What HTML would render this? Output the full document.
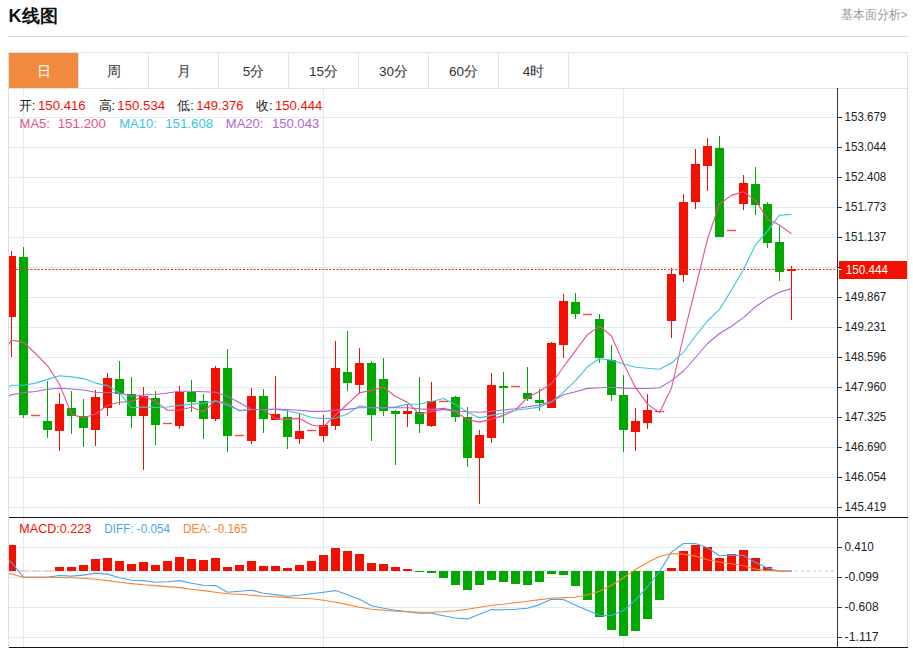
<!DOCTYPE html><html><head><meta charset="utf-8"><style>
html,body{margin:0;padding:0;background:#fff;width:913px;height:648px;overflow:hidden}
svg{position:absolute;left:0;top:0}
text{font-family:"Liberation Sans", sans-serif}
</style></head><body>
<svg width="913" height="648" viewBox="0 0 913 648">
<defs><clipPath id="cm"><rect x="9" y="89" width="828" height="428"/></clipPath>
<clipPath id="cd"><rect x="9" y="518" width="828" height="129"/></clipPath></defs>
<text x="8.6" y="21.7" font-size="18" font-weight="bold" fill="#111">K线图</text>
<text x="841.2" y="18.7" font-size="12.5" fill="#999" textLength="66.2" lengthAdjust="spacingAndGlyphs">基本面分析&gt;</text>
<rect x="8" y="36" width="900" height="1" fill="#DADADA"/>
<rect x="8.5" y="52.5" width="899" height="36" fill="#fff" stroke="#E2E2E2" stroke-width="1"/>
<rect x="9" y="53" width="69" height="35" fill="#F08A3E"/>
<text x="43.5" y="75.8" font-size="13.5" fill="#fff" text-anchor="middle">日</text>
<rect x="78" y="53" width="1" height="35" fill="#E2E2E2"/>
<text x="113.5" y="75.8" font-size="13.5" fill="#333" text-anchor="middle">周</text>
<rect x="148" y="53" width="1" height="35" fill="#E2E2E2"/>
<text x="183.5" y="75.8" font-size="13.5" fill="#333" text-anchor="middle">月</text>
<rect x="218" y="53" width="1" height="35" fill="#E2E2E2"/>
<text x="253.5" y="75.8" font-size="13.5" fill="#333" text-anchor="middle">5分</text>
<rect x="288" y="53" width="1" height="35" fill="#E2E2E2"/>
<text x="323.5" y="75.8" font-size="13.5" fill="#333" text-anchor="middle">15分</text>
<rect x="358" y="53" width="1" height="35" fill="#E2E2E2"/>
<text x="393.5" y="75.8" font-size="13.5" fill="#333" text-anchor="middle">30分</text>
<rect x="428" y="53" width="1" height="35" fill="#E2E2E2"/>
<text x="463.5" y="75.8" font-size="13.5" fill="#333" text-anchor="middle">60分</text>
<rect x="498" y="53" width="1" height="35" fill="#E2E2E2"/>
<text x="533.5" y="75.8" font-size="13.5" fill="#333" text-anchor="middle">4时</text>
<rect x="568" y="53" width="1" height="35" fill="#E2E2E2"/>
<rect x="8" y="88" width="1" height="560" fill="#DDDDDD"/>
<rect x="907" y="88" width="1" height="560" fill="#DDDDDD"/>
<rect x="9" y="117" width="828" height="1" fill="#DFEAF2"/>
<rect x="9" y="147" width="828" height="1" fill="#DFEAF2"/>
<rect x="9" y="177" width="828" height="1" fill="#DFEAF2"/>
<rect x="9" y="207" width="828" height="1" fill="#DFEAF2"/>
<rect x="9" y="237" width="828" height="1" fill="#DFEAF2"/>
<rect x="9" y="267" width="828" height="1" fill="#DFEAF2"/>
<rect x="9" y="297" width="828" height="1" fill="#DFEAF2"/>
<rect x="9" y="327" width="828" height="1" fill="#DFEAF2"/>
<rect x="9" y="357" width="828" height="1" fill="#DFEAF2"/>
<rect x="9" y="387" width="828" height="1" fill="#DFEAF2"/>
<rect x="9" y="417" width="828" height="1" fill="#DFEAF2"/>
<rect x="9" y="447" width="828" height="1" fill="#DFEAF2"/>
<rect x="9" y="477" width="828" height="1" fill="#DFEAF2"/>
<rect x="9" y="507" width="828" height="1" fill="#DFEAF2"/>
<rect x="9" y="547" width="828" height="1" fill="#DFEAF2"/>
<rect x="9" y="577" width="828" height="1" fill="#DFEAF2"/>
<rect x="9" y="607" width="828" height="1" fill="#DFEAF2"/>
<rect x="9" y="637" width="828" height="1" fill="#DFEAF2"/>
<rect x="23" y="89" width="1" height="558" fill="#DFEAF2"/>
<rect x="323" y="89" width="1" height="558" fill="#DFEAF2"/>
<rect x="623" y="89" width="1" height="558" fill="#DFEAF2"/>
<g clip-path="url(#cm)">
<rect x="11" y="251" width="1" height="106" fill="#F21000"/>
<rect x="7" y="256" width="9" height="61" fill="#F21000"/>
<rect x="23" y="247" width="1" height="171" fill="#00A800"/>
<rect x="19" y="257" width="9" height="158" fill="#00A800"/>
<rect x="31" y="414.8" width="9" height="1.4" fill="#F21000" fill-opacity="0.75"/>
<rect x="47" y="381" width="1" height="57" fill="#00A800"/>
<rect x="43" y="421" width="9" height="9" fill="#00A800"/>
<rect x="59" y="393" width="1" height="58" fill="#F21000"/>
<rect x="55" y="404" width="9" height="27" fill="#F21000"/>
<rect x="71" y="391" width="1" height="43" fill="#00A800"/>
<rect x="67" y="408" width="9" height="8" fill="#00A800"/>
<rect x="83" y="399" width="1" height="48" fill="#00A800"/>
<rect x="79" y="416" width="9" height="12" fill="#00A800"/>
<rect x="95" y="390" width="1" height="56" fill="#F21000"/>
<rect x="91" y="397" width="9" height="33" fill="#F21000"/>
<rect x="107" y="373" width="1" height="43" fill="#F21000"/>
<rect x="103" y="378" width="9" height="30" fill="#F21000"/>
<rect x="119" y="361" width="1" height="44" fill="#00A800"/>
<rect x="115" y="379" width="9" height="15" fill="#00A800"/>
<rect x="131" y="377" width="1" height="51" fill="#00A800"/>
<rect x="127" y="394" width="9" height="22" fill="#00A800"/>
<rect x="143" y="387" width="1" height="83" fill="#F21000"/>
<rect x="139" y="396" width="9" height="20" fill="#F21000"/>
<rect x="155" y="391" width="1" height="54" fill="#00A800"/>
<rect x="151" y="398" width="9" height="27" fill="#00A800"/>
<rect x="163" y="422.8" width="9" height="1.4" fill="#F21000" fill-opacity="0.75"/>
<rect x="179" y="386" width="1" height="43" fill="#F21000"/>
<rect x="175" y="392" width="9" height="34" fill="#F21000"/>
<rect x="191" y="380" width="1" height="32" fill="#00A800"/>
<rect x="187" y="392" width="9" height="10" fill="#00A800"/>
<rect x="203" y="394" width="1" height="45" fill="#00A800"/>
<rect x="199" y="401" width="9" height="18" fill="#00A800"/>
<rect x="215" y="366" width="1" height="55" fill="#F21000"/>
<rect x="211" y="368" width="9" height="51" fill="#F21000"/>
<rect x="227" y="349" width="1" height="103" fill="#00A800"/>
<rect x="223" y="368" width="9" height="68" fill="#00A800"/>
<rect x="235" y="434.8" width="9" height="1.4" fill="#F21000" fill-opacity="0.75"/>
<rect x="251" y="388" width="1" height="56" fill="#F21000"/>
<rect x="247" y="396" width="9" height="45" fill="#F21000"/>
<rect x="263" y="389" width="1" height="44" fill="#00A800"/>
<rect x="259" y="396" width="9" height="23" fill="#00A800"/>
<rect x="275" y="376" width="1" height="44" fill="#F21000"/>
<rect x="271" y="414" width="9" height="6" fill="#F21000"/>
<rect x="287" y="410" width="1" height="39" fill="#00A800"/>
<rect x="283" y="417" width="9" height="20" fill="#00A800"/>
<rect x="299" y="414" width="1" height="30" fill="#F21000"/>
<rect x="295" y="431" width="9" height="8" fill="#F21000"/>
<rect x="307" y="429.8" width="9" height="1.4" fill="#F21000" fill-opacity="0.75"/>
<rect x="323" y="415" width="1" height="27" fill="#F21000"/>
<rect x="319" y="425" width="9" height="11" fill="#F21000"/>
<rect x="335" y="341" width="1" height="89" fill="#F21000"/>
<rect x="331" y="368" width="9" height="58" fill="#F21000"/>
<rect x="347" y="331" width="1" height="60" fill="#00A800"/>
<rect x="343" y="372" width="9" height="11" fill="#00A800"/>
<rect x="359" y="348" width="1" height="46" fill="#F21000"/>
<rect x="355" y="363" width="9" height="22" fill="#F21000"/>
<rect x="371" y="361" width="1" height="80" fill="#00A800"/>
<rect x="367" y="363" width="9" height="52" fill="#00A800"/>
<rect x="383" y="358" width="1" height="58" fill="#00A800"/>
<rect x="379" y="379" width="9" height="32" fill="#00A800"/>
<rect x="395" y="410" width="1" height="55" fill="#00A800"/>
<rect x="391" y="411" width="9" height="3" fill="#00A800"/>
<rect x="407" y="404" width="1" height="23" fill="#F21000"/>
<rect x="403" y="411" width="9" height="3" fill="#F21000"/>
<rect x="419" y="377" width="1" height="56" fill="#00A800"/>
<rect x="415" y="412" width="9" height="12" fill="#00A800"/>
<rect x="431" y="382" width="1" height="45" fill="#F21000"/>
<rect x="427" y="401" width="9" height="25" fill="#F21000"/>
<rect x="439" y="400.8" width="9" height="1.4" fill="#F21000" fill-opacity="0.75"/>
<rect x="455" y="396" width="1" height="26" fill="#00A800"/>
<rect x="451" y="397" width="9" height="20" fill="#00A800"/>
<rect x="467" y="407" width="1" height="60" fill="#00A800"/>
<rect x="463" y="417" width="9" height="41" fill="#00A800"/>
<rect x="479" y="430" width="1" height="74" fill="#F21000"/>
<rect x="475" y="435" width="9" height="23" fill="#F21000"/>
<rect x="491" y="373" width="1" height="70" fill="#F21000"/>
<rect x="487" y="385" width="9" height="53" fill="#F21000"/>
<rect x="503" y="372" width="1" height="51" fill="#00A800"/>
<rect x="499" y="386" width="9" height="2" fill="#00A800"/>
<rect x="511" y="385.8" width="9" height="1.4" fill="#F21000" fill-opacity="0.75"/>
<rect x="527" y="367" width="1" height="34" fill="#00A800"/>
<rect x="523" y="393" width="9" height="6" fill="#00A800"/>
<rect x="539" y="389" width="1" height="22" fill="#00A800"/>
<rect x="535" y="400" width="9" height="3" fill="#00A800"/>
<rect x="551" y="342" width="1" height="66" fill="#F21000"/>
<rect x="547" y="343" width="9" height="65" fill="#F21000"/>
<rect x="563" y="294" width="1" height="64" fill="#F21000"/>
<rect x="559" y="301" width="9" height="44" fill="#F21000"/>
<rect x="575" y="293" width="1" height="26" fill="#00A800"/>
<rect x="571" y="302" width="9" height="12" fill="#00A800"/>
<rect x="583" y="313.8" width="9" height="1.4" fill="#F21000" fill-opacity="0.75"/>
<rect x="599" y="314" width="1" height="49" fill="#00A800"/>
<rect x="595" y="319" width="9" height="39" fill="#00A800"/>
<rect x="611" y="345" width="1" height="56" fill="#00A800"/>
<rect x="607" y="360" width="9" height="35" fill="#00A800"/>
<rect x="623" y="375" width="1" height="77" fill="#00A800"/>
<rect x="619" y="395" width="9" height="35" fill="#00A800"/>
<rect x="635" y="408" width="1" height="43" fill="#F21000"/>
<rect x="631" y="421" width="9" height="11" fill="#F21000"/>
<rect x="647" y="394" width="1" height="35" fill="#F21000"/>
<rect x="643" y="410" width="9" height="13" fill="#F21000"/>
<rect x="655" y="410.8" width="9" height="1.4" fill="#F21000" fill-opacity="0.75"/>
<rect x="671" y="268" width="1" height="70" fill="#F21000"/>
<rect x="667" y="274" width="9" height="47" fill="#F21000"/>
<rect x="683" y="194" width="1" height="88" fill="#F21000"/>
<rect x="679" y="202" width="9" height="73" fill="#F21000"/>
<rect x="695" y="149" width="1" height="60" fill="#F21000"/>
<rect x="691" y="164" width="9" height="38" fill="#F21000"/>
<rect x="707" y="138" width="1" height="53" fill="#F21000"/>
<rect x="703" y="146" width="9" height="20" fill="#F21000"/>
<rect x="719" y="136" width="1" height="101" fill="#00A800"/>
<rect x="715" y="148" width="9" height="89" fill="#00A800"/>
<rect x="727" y="229.8" width="9" height="1.4" fill="#F21000" fill-opacity="0.75"/>
<rect x="743" y="175" width="1" height="35" fill="#F21000"/>
<rect x="739" y="183" width="9" height="21" fill="#F21000"/>
<rect x="755" y="167" width="1" height="48" fill="#00A800"/>
<rect x="751" y="184" width="9" height="21" fill="#00A800"/>
<rect x="767" y="202" width="1" height="46" fill="#00A800"/>
<rect x="763" y="204" width="9" height="39" fill="#00A800"/>
<rect x="779" y="225" width="1" height="56" fill="#00A800"/>
<rect x="775" y="242" width="9" height="30" fill="#00A800"/>
<rect x="791" y="266" width="1" height="54" fill="#F21000"/>
<rect x="787" y="269" width="9" height="2" fill="#F21000"/>
<line x1="9" y1="269.5" x2="837" y2="269.5" stroke="#F2301A" stroke-width="1.15" stroke-dasharray="2 1.6"/>
<polyline points="-0.5,360.0 11.5,340.0 23.5,342.4 35.5,353.5 47.5,365.8 59.5,384.3 71.5,414.4 83.5,417.7 95.5,414.0 107.5,405.3 119.5,402.3 131.5,401.6 143.5,396.2 155.5,401.6 167.5,410.2 179.5,410.2 191.5,407.3 203.5,411.5 215.5,400.9 227.5,403.3 239.5,411.0 251.5,409.5 263.5,409.5 275.5,418.9 287.5,419.4 299.5,418.4 311.5,425.0 323.5,426.7 335.5,415.0 347.5,404.0 359.5,392.8 371.5,390.4 383.5,387.2 395.5,396.5 407.5,402.2 419.5,414.3 431.5,411.4 443.5,409.4 455.5,411.5 467.5,419.6 479.5,422.1 491.5,419.1 503.5,415.4 515.5,410.0 527.5,397.6 539.5,391.2 551.5,383.7 563.5,366.8 575.5,350.7 587.5,334.7 599.5,326.1 611.5,336.0 623.5,363.4 635.5,387.4 647.5,404.1 659.5,412.5 671.5,388.0 683.5,336.0 695.5,288.0 707.5,239.0 719.5,204.0 731.5,195.4 743.5,191.7 755.5,200.4 767.5,218.9 779.5,225.1 791.5,233.7" fill="none" stroke="#E8508A" stroke-width="1.1" stroke-linejoin="round"/>
<polyline points="-0.5,392.0 11.5,385.3 23.5,385.3 35.5,383.1 47.5,379.4 59.5,375.7 71.5,376.9 83.5,378.6 95.5,383.1 107.5,385.6 119.5,393.0 131.5,407.8 143.5,407.0 155.5,407.5 167.5,407.0 179.5,405.3 191.5,404.1 203.5,403.3 215.5,400.9 227.5,405.3 239.5,410.2 251.5,409.5 263.5,409.5 275.5,409.5 287.5,410.7 299.5,413.5 311.5,417.5 323.5,418.8 335.5,418.3 347.5,413.8 359.5,405.9 371.5,407.7 383.5,407.7 395.5,406.9 407.5,404.4 419.5,404.0 431.5,401.5 443.5,398.5 455.5,404.4 467.5,412.2 479.5,417.9 491.5,415.4 503.5,413.0 515.5,410.3 527.5,408.8 539.5,407.1 551.5,402.0 563.5,392.1 575.5,380.7 587.5,366.8 599.5,358.7 611.5,360.1 623.5,364.0 635.5,367.3 647.5,368.3 659.5,369.2 671.5,363.0 683.5,352.3 695.5,335.8 707.5,321.0 719.5,309.4 731.5,290.0 743.5,269.5 755.5,244.8 767.5,231.2 779.5,215.2 791.5,214.4" fill="none" stroke="#3AC6DE" stroke-width="1.1" stroke-linejoin="round"/>
<polyline points="-0.5,400.0 11.5,394.8 23.5,392.6 35.5,391.5 47.5,389.3 59.5,388.3 71.5,389.0 83.5,390.0 95.5,392.2 107.5,392.5 119.5,393.0 131.5,396.2 143.5,395.0 155.5,394.5 167.5,393.0 179.5,391.2 191.5,391.2 203.5,391.7 215.5,392.2 227.5,396.2 239.5,402.8 251.5,409.5 263.5,409.5 275.5,409.0 287.5,409.5 299.5,410.2 311.5,411.4 323.5,411.4 335.5,410.1 347.5,409.4 359.5,407.7 371.5,407.7 383.5,407.7 395.5,407.7 407.5,407.7 419.5,408.9 431.5,409.4 443.5,408.4 455.5,410.7 467.5,411.7 479.5,412.2 491.5,411.2 503.5,410.0 515.5,408.8 527.5,406.8 539.5,405.1 551.5,401.4 563.5,394.8 575.5,391.7 587.5,388.4 599.5,387.7 611.5,387.2 623.5,388.1 635.5,388.5 647.5,388.5 659.5,387.8 671.5,380.6 683.5,371.0 695.5,357.5 707.5,343.5 719.5,333.5 731.5,326.2 743.5,317.6 755.5,306.7 767.5,298.6 779.5,292.2 791.5,288.6" fill="none" stroke="#B263D0" stroke-width="1.1" stroke-linejoin="round"/>
</g>
<text x="18.8" y="110.0" font-size="13" fill="#222">开:</text>
<text x="38.0" y="110.0" font-size="13" fill="#F21000" textLength="47.7" lengthAdjust="spacingAndGlyphs">150.416</text>
<text x="98.5" y="110.0" font-size="13" fill="#222">高:</text>
<text x="117.3" y="110.0" font-size="13" fill="#F21000" textLength="47.8" lengthAdjust="spacingAndGlyphs">150.534</text>
<text x="177.3" y="110.0" font-size="13" fill="#222">低:</text>
<text x="196.2" y="110.0" font-size="13" fill="#F21000" textLength="47.3" lengthAdjust="spacingAndGlyphs">149.376</text>
<text x="256.1" y="110.0" font-size="13" fill="#222">收:</text>
<text x="275.0" y="110.0" font-size="13" fill="#F21000" textLength="47.4" lengthAdjust="spacingAndGlyphs">150.444</text>
<text x="19.6" y="127.5" font-size="13" fill="#E8508A">MA5:</text>
<text x="57.7" y="127.5" font-size="13" fill="#E8508A" textLength="48.3" lengthAdjust="spacingAndGlyphs">151.200</text>
<text x="119.2" y="127.5" font-size="13" fill="#3AC6DE">MA10:</text>
<text x="165.2" y="127.5" font-size="13" fill="#3AC6DE" textLength="48.0" lengthAdjust="spacingAndGlyphs">151.608</text>
<text x="225.8" y="127.5" font-size="13" fill="#B263D0">MA20:</text>
<text x="271.9" y="127.5" font-size="13" fill="#B263D0" textLength="47.3" lengthAdjust="spacingAndGlyphs">150.043</text>
<rect x="837" y="88" width="1" height="560" fill="#333"/>
<rect x="9" y="517" width="899" height="1" fill="#111"/>
<rect x="9" y="647" width="899" height="1" fill="#111"/>
<rect x="838" y="117" width="4" height="1" fill="#333"/>
<text x="844.6" y="121.3" font-size="13" fill="#222" textLength="41.7" lengthAdjust="spacingAndGlyphs">153.679</text>
<rect x="838" y="147" width="4" height="1" fill="#333"/>
<text x="844.6" y="151.3" font-size="13" fill="#222" textLength="41.7" lengthAdjust="spacingAndGlyphs">153.044</text>
<rect x="838" y="177" width="4" height="1" fill="#333"/>
<text x="844.6" y="181.3" font-size="13" fill="#222" textLength="41.7" lengthAdjust="spacingAndGlyphs">152.408</text>
<rect x="838" y="207" width="4" height="1" fill="#333"/>
<text x="844.6" y="211.3" font-size="13" fill="#222" textLength="41.7" lengthAdjust="spacingAndGlyphs">151.773</text>
<rect x="838" y="237" width="4" height="1" fill="#333"/>
<text x="844.6" y="241.3" font-size="13" fill="#222" textLength="41.7" lengthAdjust="spacingAndGlyphs">151.137</text>
<rect x="838" y="267" width="4" height="1" fill="#333"/>
<rect x="838" y="297" width="4" height="1" fill="#333"/>
<text x="844.6" y="301.3" font-size="13" fill="#222" textLength="41.7" lengthAdjust="spacingAndGlyphs">149.867</text>
<rect x="838" y="327" width="4" height="1" fill="#333"/>
<text x="844.6" y="331.3" font-size="13" fill="#222" textLength="41.7" lengthAdjust="spacingAndGlyphs">149.231</text>
<rect x="838" y="357" width="4" height="1" fill="#333"/>
<text x="844.6" y="361.3" font-size="13" fill="#222" textLength="41.7" lengthAdjust="spacingAndGlyphs">148.596</text>
<rect x="838" y="387" width="4" height="1" fill="#333"/>
<text x="844.6" y="391.3" font-size="13" fill="#222" textLength="41.7" lengthAdjust="spacingAndGlyphs">147.960</text>
<rect x="838" y="417" width="4" height="1" fill="#333"/>
<text x="844.6" y="421.3" font-size="13" fill="#222" textLength="41.7" lengthAdjust="spacingAndGlyphs">147.325</text>
<rect x="838" y="447" width="4" height="1" fill="#333"/>
<text x="844.6" y="451.3" font-size="13" fill="#222" textLength="41.7" lengthAdjust="spacingAndGlyphs">146.690</text>
<rect x="838" y="477" width="4" height="1" fill="#333"/>
<text x="844.6" y="481.3" font-size="13" fill="#222" textLength="41.7" lengthAdjust="spacingAndGlyphs">146.054</text>
<rect x="838" y="507" width="4" height="1" fill="#333"/>
<text x="844.6" y="511.3" font-size="13" fill="#222" textLength="41.7" lengthAdjust="spacingAndGlyphs">145.419</text>
<rect x="839" y="261" width="68" height="18" fill="#F21000"/>
<rect x="838" y="269" width="4" height="1" fill="#fff"/>
<text x="845.8" y="274" font-size="13" fill="#fff" textLength="42.2" lengthAdjust="spacingAndGlyphs">150.444</text>
<g clip-path="url(#cd)">
<line x1="9" y1="571" x2="834" y2="571" stroke="#A6D6F0" stroke-width="1" stroke-dasharray="3 3"/>
<rect x="7" y="545" width="9" height="26" fill="#F21000"/>
<rect x="55" y="567" width="9" height="4" fill="#F21000"/>
<rect x="67" y="567" width="9" height="4" fill="#F21000"/>
<rect x="79" y="565" width="9" height="6" fill="#F21000"/>
<rect x="91" y="559" width="9" height="12" fill="#F21000"/>
<rect x="103" y="558" width="9" height="13" fill="#F21000"/>
<rect x="115" y="561" width="9" height="10" fill="#F21000"/>
<rect x="127" y="564" width="9" height="7" fill="#F21000"/>
<rect x="139" y="562" width="9" height="9" fill="#F21000"/>
<rect x="151" y="565" width="9" height="6" fill="#F21000"/>
<rect x="163" y="561" width="9" height="10" fill="#F21000"/>
<rect x="175" y="557" width="9" height="14" fill="#F21000"/>
<rect x="187" y="559" width="9" height="12" fill="#F21000"/>
<rect x="199" y="560" width="9" height="11" fill="#F21000"/>
<rect x="211" y="558" width="9" height="13" fill="#F21000"/>
<rect x="223" y="567" width="9" height="4" fill="#F21000"/>
<rect x="235" y="565" width="9" height="6" fill="#F21000"/>
<rect x="247" y="561" width="9" height="10" fill="#F21000"/>
<rect x="259" y="566" width="9" height="5" fill="#F21000"/>
<rect x="271" y="566" width="9" height="5" fill="#F21000"/>
<rect x="283" y="568" width="9" height="3" fill="#F21000"/>
<rect x="295" y="565" width="9" height="6" fill="#F21000"/>
<rect x="307" y="561" width="9" height="10" fill="#F21000"/>
<rect x="319" y="555" width="9" height="16" fill="#F21000"/>
<rect x="331" y="548" width="9" height="23" fill="#F21000"/>
<rect x="343" y="551" width="9" height="20" fill="#F21000"/>
<rect x="355" y="554" width="9" height="17" fill="#F21000"/>
<rect x="367" y="563" width="9" height="8" fill="#F21000"/>
<rect x="379" y="564" width="9" height="7" fill="#F21000"/>
<rect x="391" y="567" width="9" height="4" fill="#F21000"/>
<rect x="403" y="569" width="9" height="2" fill="#F21000"/>
<rect x="415" y="571" width="9" height="1" fill="#00A800"/>
<rect x="427" y="571" width="9" height="2" fill="#00A800"/>
<rect x="439" y="571" width="9" height="7" fill="#00A800"/>
<rect x="451" y="571" width="9" height="14" fill="#00A800"/>
<rect x="463" y="571" width="9" height="19" fill="#00A800"/>
<rect x="475" y="571" width="9" height="14" fill="#00A800"/>
<rect x="487" y="571" width="9" height="9" fill="#00A800"/>
<rect x="499" y="571" width="9" height="11" fill="#00A800"/>
<rect x="511" y="571" width="9" height="13" fill="#00A800"/>
<rect x="523" y="571" width="9" height="14" fill="#00A800"/>
<rect x="535" y="571" width="9" height="11" fill="#00A800"/>
<rect x="547" y="571" width="9" height="3" fill="#00A800"/>
<rect x="559" y="571" width="9" height="4" fill="#00A800"/>
<rect x="571" y="571" width="9" height="15" fill="#00A800"/>
<rect x="583" y="571" width="9" height="29" fill="#00A800"/>
<rect x="595" y="571" width="9" height="46" fill="#00A800"/>
<rect x="607" y="571" width="9" height="59" fill="#00A800"/>
<rect x="619" y="571" width="9" height="65" fill="#00A800"/>
<rect x="631" y="571" width="9" height="60" fill="#00A800"/>
<rect x="643" y="571" width="9" height="48" fill="#00A800"/>
<rect x="655" y="571" width="9" height="29" fill="#00A800"/>
<rect x="667" y="568" width="9" height="3" fill="#F21000"/>
<rect x="679" y="551" width="9" height="20" fill="#F21000"/>
<rect x="691" y="545" width="9" height="26" fill="#F21000"/>
<rect x="703" y="547" width="9" height="24" fill="#F21000"/>
<rect x="715" y="558" width="9" height="13" fill="#F21000"/>
<rect x="727" y="554" width="9" height="17" fill="#F21000"/>
<rect x="739" y="550" width="9" height="21" fill="#F21000"/>
<rect x="751" y="558" width="9" height="13" fill="#F21000"/>
<rect x="763" y="567" width="9" height="4" fill="#F21000"/>
<rect x="19" y="570.5" width="9" height="1" fill="#F7B4B0"/>
<rect x="31" y="570.5" width="9" height="1" fill="#F7B4B0"/>
<rect x="43" y="570.5" width="9" height="1" fill="#F7B4B0"/>
<polyline points="-0.5,556.0 11.5,562.4 23.5,577.2 35.5,577.2 47.5,577.2 59.5,575.5 71.5,576.1 83.5,575.1 95.5,573.1 107.5,574.1 119.5,577.7 131.5,580.2 143.5,580.6 155.5,582.2 167.5,581.8 179.5,580.6 191.5,583.2 203.5,585.2 215.5,585.6 227.5,592.2 239.5,591.2 251.5,590.2 263.5,593.2 275.5,594.6 287.5,596.2 299.5,595.2 311.5,593.8 323.5,592.2 335.5,590.6 347.5,594.8 359.5,599.2 371.5,605.8 383.5,608.2 395.5,610.2 407.5,611.8 419.5,613.2 431.5,613.2 443.5,615.8 455.5,618.0 467.5,618.9 479.5,614.2 491.5,609.6 503.5,609.8 515.5,609.2 527.5,608.2 539.5,604.6 551.5,599.2 563.5,599.6 575.5,605.2 587.5,610.2 599.5,615.2 611.5,615.6 623.5,610.6 635.5,600.2 647.5,586.6 659.5,571.7 671.5,552.1 683.5,543.5 695.5,543.5 707.5,547.7 719.5,555.7 731.5,555.1 743.5,555.5 755.5,562.5 767.5,568.1 779.5,571.1 791.5,571.1" fill="none" stroke="#4DA3EE" stroke-width="1.1" stroke-linejoin="round"/>
<polyline points="-0.5,572.0 11.5,574.0 23.5,577.2 35.5,577.2 47.5,577.2 59.5,577.5 71.5,577.8 83.5,578.2 95.5,579.2 107.5,580.6 119.5,582.2 131.5,583.6 143.5,584.8 155.5,585.6 167.5,586.6 179.5,587.6 191.5,589.2 203.5,590.6 215.5,592.2 227.5,593.8 239.5,594.2 251.5,595.2 263.5,596.2 275.5,596.8 287.5,597.6 299.5,598.2 311.5,598.8 323.5,600.2 335.5,602.2 347.5,604.6 359.5,607.2 371.5,609.2 383.5,610.2 395.5,611.2 407.5,611.8 419.5,612.2 431.5,612.2 443.5,611.8 455.5,610.8 467.5,609.2 479.5,607.2 491.5,605.2 503.5,604.2 515.5,602.8 527.5,601.2 539.5,599.6 551.5,598.2 563.5,597.6 575.5,597.2 587.5,594.8 599.5,591.2 611.5,585.2 623.5,577.8 635.5,569.5 647.5,562.5 659.5,556.5 671.5,553.5 683.5,554.1 695.5,556.1 707.5,559.7 719.5,562.1 731.5,563.7 743.5,565.7 755.5,569.1 767.5,570.5 779.5,571.1 791.5,571.1" fill="none" stroke="#F7842E" stroke-width="1.1" stroke-linejoin="round"/>
</g>
<text x="19.3" y="533.0" font-size="13" fill="#F21000" textLength="72.0" lengthAdjust="spacingAndGlyphs">MACD:0.223</text>
<text x="104.3" y="533.0" font-size="13" fill="#4DA3EE" textLength="65.7" lengthAdjust="spacingAndGlyphs">DIFF: -0.054</text>
<text x="183.0" y="533.0" font-size="13" fill="#F7842E" textLength="64.2" lengthAdjust="spacingAndGlyphs">DEA: -0.165</text>
<rect x="838" y="547" width="4" height="1" fill="#333"/>
<text x="844.6" y="551.3" font-size="13" fill="#222" textLength="29.3" lengthAdjust="spacingAndGlyphs">0.410</text>
<rect x="838" y="577" width="4" height="1" fill="#333"/>
<text x="844.6" y="581.3" font-size="13" fill="#222" textLength="34.0" lengthAdjust="spacingAndGlyphs">-0.099</text>
<rect x="838" y="607" width="4" height="1" fill="#333"/>
<text x="844.6" y="611.3" font-size="13" fill="#222" textLength="34.0" lengthAdjust="spacingAndGlyphs">-0.608</text>
<rect x="838" y="637" width="4" height="1" fill="#333"/>
<text x="844.6" y="641.3" font-size="13" fill="#222" textLength="34.0" lengthAdjust="spacingAndGlyphs">-1.117</text>
</svg></body></html>
